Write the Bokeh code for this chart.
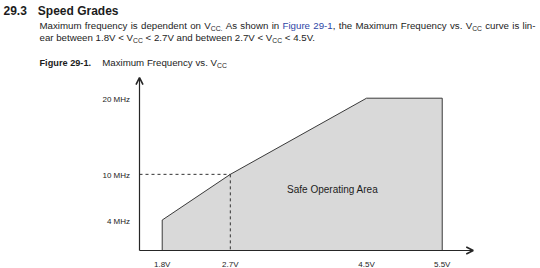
import re
from bokeh.plotting import figure
from bokeh.models import Range1d, Label, Arrow, OpenHead, ColumnDataSource
from bokeh.core.properties import value
from bokeh.embed import file_html
from bokeh.resources import INLINE

# ---------------- data ----------------
vcc = [1.8, 1.8, 2.7, 4.5, 5.5, 5.5]          # V
fmax = [0, 4, 10, 20, 20, 0]                   # MHz
knee_vcc = 2.7
knee_f = 10
x_ticks = [1.8, 2.7, 4.5, 5.5]
x_tick_labels = ["1.8V", "2.7V", "4.5V", "5.5V"]
y_ticks = [4, 10, 20]
y_tick_labels = ["4 MHz", "10 MHz", "20 MHz"]
axis_vcc_start = 1.5
axis_vcc_end = 5.91
axis_f_end = 22.7
area_label = "Safe Operating Area"
area_label_vcc = 3.45
area_label_f = 8.0

heading_num = "29.3"
heading = "Speed Grades"
para_line1 = [("Maximum frequency is dependent on V", "n"), ("CC.", "s"),
              (" As shown in ", "n"), ("Figure 29-1", "l"),
              (", the Maximum Frequency vs. V", "n"), ("CC", "s"),
              (" curve is lin-", "n")]
para_line2 = [("ear between 1.8V < V", "n"), ("CC", "s"),
              (" < 2.7V and between 2.7V < V", "n"), ("CC", "s"),
              (" < 4.5V.", "n")]
caption_bold = "Figure 29-1."
caption_text = [("Maximum Frequency vs. V", "n"), ("CC", "s")]

# ---------------- layout ----------------
W, H = 540, 268
FONT = "Liberation Sans"
TXT = "#1c1c1c"
LINK = "#2e46a6"
AX = "#262626"

px_per_v = 75.68
px_per_mhz = 7.615
axis_x_px = 139.0      # px of the y axis (1.5 V)
zero_y_px = 250.0      # px (from top) of 0 MHz

x0 = axis_vcc_start - axis_x_px / px_per_v
y0 = -(H - zero_y_px) / px_per_mhz

p = figure(width=W, height=H, output_backend="svg", toolbar_location=None,
           x_range=Range1d(x0, x0 + W / px_per_v),
           y_range=Range1d(y0, y0 + H / px_per_mhz),
           x_axis_type=None, y_axis_type=None, min_border=0,
           outline_line_color=None, background_fill_color="white",
           border_fill_color="white")
p.xgrid.visible = False
p.ygrid.visible = False

# safe area polygon
p.patch(vcc, fmax, fill_color="#d9d9d9", line_color="#3a3a3a", line_width=1)

# dashed guides to the knee
p.line([axis_vcc_start, knee_vcc], [knee_f, knee_f], line_color="#333333",
       line_width=1, line_dash="3 3")
p.line([knee_vcc, knee_vcc], [knee_f, 0], line_color="#333333",
       line_width=1, line_dash="3 3")

# axes with arrows
p.add_layout(Arrow(end=OpenHead(size=7, line_width=1.6, line_color=AX),
                   x_start=axis_vcc_start, y_start=0, x_end=axis_vcc_end, y_end=0,
                   line_color=AX, line_width=1.2))
p.add_layout(Arrow(end=OpenHead(size=7, line_width=1.6, line_color=AX),
                   x_start=axis_vcc_start, y_start=0, x_end=axis_vcc_start, y_end=axis_f_end,
                   line_color=AX, line_width=1.2))

# tick labels
xs = ColumnDataSource(dict(x=x_ticks, y=[0] * len(x_ticks), t=x_tick_labels))
p.text(x="x", y="y", text="t", source=xs, text_font=value(FONT),
       text_font_size="8px", text_color=TXT, text_align="center",
       text_baseline="alphabetic", y_offset=14)
ys = ColumnDataSource(dict(x=[axis_vcc_start] * len(y_ticks), y=y_ticks, t=y_tick_labels))
p.text(x="x", y="y", text="t", source=ys, text_font=value(FONT),
       text_font_size="8px", text_color=TXT, text_align="right",
       text_baseline="middle", x_offset=-9.5, y_offset=1)

p.text(x=[area_label_vcc], y=[area_label_f], text=[area_label], text_font=value(FONT),
       text_font_size="10px", text_color=TXT, text_align="left", text_baseline="middle")

# ---------------- header text ----------------
CW = {' ': 278, '.': 278, ',': 278, '-': 333, '<': 584,
      'A': 667, 'C': 722, 'F': 611, 'M': 833, 'V': 667,
      'a': 556, 'b': 556, 'c': 500, 'd': 556, 'e': 556, 'f': 278, 'g': 556,
      'h': 556, 'i': 222, 'l': 222, 'm': 833, 'n': 556, 'o': 556, 'p': 556,
      'q': 556, 'r': 333, 's': 500, 't': 278, 'u': 556, 'v': 500, 'w': 722,
      'x': 500, 'y': 500}
BODY = 9.7
SUB = 6.8
SUB_DROP = 2.6


def tw(t, size):
    return sum(CW.get(ch, 556) for ch in t) / 1000.0 * size


def wid(t, kind):
    return tw(t, SUB if kind == "s" else BODY)


def add_text(t, kind, x, base):
    size = SUB if kind == "s" else BODY
    yb = base + (SUB_DROP if kind == "s" else 0)
    p.add_layout(Label(x=x, y=H - yb, x_units="screen", y_units="screen", text=t,
                       text_font=FONT, text_font_size=f"{size}px",
                       text_color=LINK if kind == "l" else TXT,
                       text_align="left", text_baseline="alphabetic"))


def layout_line(pieces, x_start, base, target=None):
    tokens = []
    for text, kind in pieces:
        for part in re.split(r"( )", text):
            if part:
                tokens.append((part, kind))
    natural = sum(wid(t, k) for t, k in tokens)
    nsp = sum(1 for t, _ in tokens if t == " ")
    extra = (target - x_start - natural) / nsp if (target and nsp) else 0
    x = x_start
    for t, k in tokens:
        w = wid(t, k)
        if t == " ":
            x += w + extra
        else:
            add_text(t, k, x, base)
            x += w


def label_px(t, x, base, size, bold=False, color=TXT):
    p.add_layout(Label(x=x, y=H - base, x_units="screen", y_units="screen", text=t,
                       text_font=FONT, text_font_size=f"{size}px",
                       text_font_style="bold" if bold else "normal",
                       text_color=color, text_align="left", text_baseline="alphabetic"))


label_px(heading_num, 3, 10, 12, bold=True)
label_px(heading, 37.3, 10, 12, bold=True)
layout_line(para_line1, 39, 25, target=535)
layout_line(para_line2, 39, 37)
label_px(caption_bold, 39, 62, 9.2, bold=True)
layout_line(caption_text, 101.7, 62)

open("out.html", "w").write(file_html(p, INLINE))
